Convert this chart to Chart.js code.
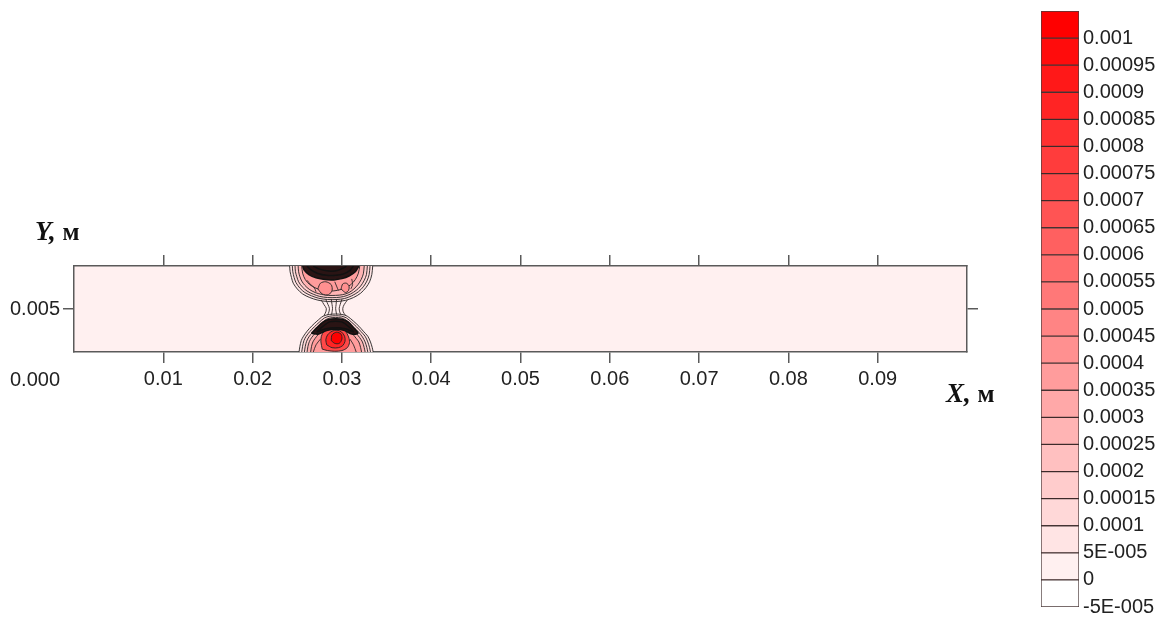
<!DOCTYPE html>
<html>
<head>
<meta charset="utf-8">
<script src="https://cdn.jsdelivr.net/npm/chart.js@4.4.1/dist/chart.umd.min.js"></script>
<style>
  html, body { margin: 0; padding: 0; background: #fff; }
  #wrap { position: relative; width: 1168px; height: 617px; }
  #field { position: absolute; left: 0; top: 0; }
  #legend { position: absolute; left: 1030px; top: 0; }
</style>
</head>
<body>
<div id="wrap">
  <canvas id="field" width="1168" height="617"></canvas>
  <canvas id="legend" width="138" height="617"></canvas>
</div>
<script>
// axis ticks
const xTicks = [0.01, 0.02, 0.03, 0.04, 0.05, 0.06, 0.07, 0.08, 0.09];
const yTicks = [0.005];
const yFootValue = 0; // "0.000" printed under the Y axis

// contour levels of the legend (bottom to top)
const levels = [-0.00005, 0, 0.00005, 0.0001, 0.00015, 0.0002, 0.00025, 0.0003, 0.00035,
  0.0004, 0.00045, 0.0005, 0.00055, 0.0006, 0.00065, 0.0007, 0.00075, 0.0008,
  0.00085, 0.0009, 0.00095, 0.001];
const levelLabels = ['-5E-005', '0', '5E-005', '0.0001', '0.00015', '0.0002', '0.00025', '0.0003',
  '0.00035', '0.0004', '0.00045', '0.0005', '0.00055', '0.0006', '0.00065', '0.0007',
  '0.00075', '0.0008', '0.00085', '0.0009', '0.00095', '0.001'];
const legendTop = 0.00105;

// contour lines [x, y] in metres, upper lobe (open to the top wall)
const upper1 = [[0.02415,0.0080],[0.0242,0.0076],[0.02435,0.0072],[0.02455,0.0068],[0.0250,0.0064],[0.0256,0.00605],[0.0264,0.0058],[0.0273,0.00562],[0.0284,0.00552],[0.0294,0.00552],[0.0304,0.0056],[0.0313,0.0058],[0.0321,0.0061],[0.0327,0.0065],[0.0331,0.0069],[0.03335,0.0074],[0.03345,0.0080]];
const upper2 = [[0.02445,0.0080],[0.0245,0.0076],[0.02465,0.0072],[0.02485,0.00685],[0.0253,0.00645],[0.02585,0.00615],[0.0266,0.00592],[0.0274,0.00575],[0.0284,0.00566],[0.0294,0.00566],[0.0303,0.00573],[0.0311,0.00592],[0.03185,0.0062],[0.0324,0.00655],[0.0328,0.00695],[0.03305,0.0074],[0.03315,0.0080]];
const upper3 = [[0.02475,0.0080],[0.0248,0.0076],[0.02495,0.00725],[0.02515,0.0069],[0.02555,0.00655],[0.0261,0.00625],[0.0268,0.00603],[0.0275,0.00588],[0.0284,0.0058],[0.0294,0.0058],[0.0302,0.00587],[0.03095,0.00604],[0.0316,0.0063],[0.0321,0.0066],[0.0325,0.0070],[0.03275,0.0074],[0.03285,0.0080]];
const upper4 = [[0.0251,0.0080],[0.02515,0.0076],[0.0253,0.00725],[0.0255,0.00695],[0.02585,0.00665],[0.02635,0.00637],[0.0270,0.00615],[0.0277,0.00602],[0.0285,0.00595],[0.0293,0.00595],[0.0301,0.0060],[0.0308,0.00615],[0.03135,0.0064],[0.0318,0.0067],[0.03215,0.00705],[0.0324,0.00745],[0.0325,0.0080]];
const upper5 = [[0.0255,0.0080],[0.0256,0.0075],[0.0259,0.00705],[0.0264,0.0067],[0.0271,0.00645],[0.0279,0.0063],[0.0287,0.00625],[0.0295,0.0063],[0.0303,0.00645],[0.0310,0.0067],[0.0315,0.00705],[0.03185,0.0075],[0.0320,0.0080]];
const upperDense1 = [[0.0256,0.0080],[0.0258,0.0077],[0.0263,0.0074],[0.0271,0.00718],[0.0281,0.00705],[0.0291,0.00703],[0.0300,0.00712],[0.0308,0.0073],[0.0315,0.0076],[0.0319,0.0080]];
const upperDense2 = [[0.0261,0.0080],[0.0265,0.00775],[0.0273,0.00748],[0.0283,0.00735],[0.0293,0.00735],[0.0302,0.00745],[0.0309,0.0077],[0.0313,0.0080]];
const upperDense3 = [[0.0268,0.0080],[0.0275,0.00778],[0.0285,0.00765],[0.0295,0.00768],[0.0303,0.0079],[0.0305,0.0080]];
const upperLoop1 = [[0.0273,0.0064],[0.0276,0.0068],[0.0282,0.0069],[0.0288,0.0067],[0.0289,0.0063],[0.0285,0.0060],[0.0278,0.00605],[0.0273,0.0064]];
const upperLoop2 = [[0.0299,0.0064],[0.0301,0.00675],[0.0305,0.0068],[0.0308,0.0066],[0.03075,0.0063],[0.0304,0.00615],[0.0299,0.0064]];

// open contour pieces: neck between the lobes and small scribbles
const neck1 = [[0.0277,0.00562],[0.0280,0.0053],[0.02825,0.00505],[0.0282,0.0048],[0.0280,0.00455]];
const neck2 = [[0.0282,0.00566],[0.02845,0.0053],[0.0286,0.00505],[0.02855,0.0048],[0.0284,0.00458]];
const neck3 = [[0.0288,0.0057],[0.0289,0.0053],[0.02895,0.00505],[0.0289,0.0048],[0.02885,0.0046]];
const neck4 = [[0.0294,0.0057],[0.02935,0.0053],[0.0293,0.00505],[0.02935,0.0048],[0.0294,0.00462]];
const neck5 = [[0.0300,0.00568],[0.0298,0.0053],[0.0297,0.00505],[0.02975,0.0048],[0.0299,0.0046]];
const neck6 = [[0.0306,0.00562],[0.03025,0.0053],[0.0301,0.00505],[0.03015,0.0048],[0.0304,0.00456]];
const scribble1 = [[0.0261,0.0070],[0.0265,0.0067],[0.0269,0.0065],[0.0271,0.0062]];
const scribble2 = [[0.0292,0.0069],[0.0294,0.0066],[0.0296,0.0063]];
const scribble3 = [[0.0311,0.0071],[0.0312,0.0067],[0.0310,0.0064]];
const hatch1 = [[0.0268,0.0020],[0.0271,0.0025],[0.0276,0.0029]];
const hatch2 = [[0.0316,0.0020],[0.0313,0.0025],[0.0309,0.0029]];

// lower lobe (open to the bottom wall)
const lower1 = [[0.0252,0.0020],[0.0253,0.0024],[0.02545,0.0028],[0.0257,0.0031],[0.0261,0.00345],[0.0266,0.0038],[0.0272,0.00415],[0.0279,0.0045],[0.0286,0.00462],[0.0293,0.00465],[0.0300,0.00462],[0.0306,0.0045],[0.0313,0.00415],[0.0319,0.0038],[0.0324,0.00345],[0.0329,0.0031],[0.0332,0.0027],[0.0334,0.0023],[0.0335,0.0020]];
const lower2 = [[0.0255,0.0020],[0.0256,0.0024],[0.02575,0.0028],[0.0260,0.0031],[0.0264,0.00342],[0.0269,0.00375],[0.02745,0.00407],[0.02805,0.00438],[0.02865,0.0045],[0.0293,0.00453],[0.02995,0.0045],[0.0305,0.00438],[0.0311,0.00407],[0.03165,0.00375],[0.03215,0.00342],[0.0326,0.0031],[0.0329,0.0027],[0.0331,0.0023],[0.0332,0.0020]];
const lower3 = [[0.0258,0.0020],[0.0259,0.0024],[0.02605,0.00275],[0.0263,0.00305],[0.0267,0.00337],[0.0272,0.00368],[0.0277,0.00398],[0.0282,0.00426],[0.0287,0.00438],[0.0293,0.00441],[0.0299,0.00438],[0.0304,0.00426],[0.0309,0.00398],[0.0314,0.00368],[0.0319,0.00337],[0.0323,0.00305],[0.0326,0.0027],[0.0328,0.0023],[0.0329,0.0020]];
const lower4 = [[0.0261,0.0020],[0.0262,0.0024],[0.02635,0.00272],[0.0266,0.0030],[0.0270,0.0033],[0.02745,0.0036],[0.0279,0.0039],[0.02835,0.00414],[0.0288,0.00426],[0.0293,0.00429],[0.0298,0.00426],[0.03025,0.00414],[0.0307,0.0039],[0.03115,0.0036],[0.0316,0.0033],[0.0320,0.0030],[0.0323,0.0027],[0.0325,0.0023],[0.0326,0.0020]];
const lower5 = [[0.0265,0.0020],[0.0266,0.0024],[0.02675,0.0027],[0.0270,0.00295],[0.02735,0.00322],[0.02775,0.0035],[0.02815,0.0038],[0.02855,0.00402],[0.0289,0.00412],[0.0293,0.00415],[0.0297,0.00412],[0.03005,0.00402],[0.03045,0.0038],[0.03085,0.0035],[0.03125,0.00322],[0.0316,0.00295],[0.0319,0.0027],[0.0321,0.0023],[0.0322,0.0020]];
const lowerRed1 = [[0.0278,0.0022],[0.02765,0.0027],[0.0277,0.0031],[0.0280,0.00345],[0.0285,0.0037],[0.0292,0.0038],[0.0299,0.00372],[0.0304,0.00345],[0.03075,0.00305],[0.03085,0.00265],[0.0306,0.0023],[0.0300,0.0021],[0.0292,0.00205],[0.0284,0.0021],[0.0278,0.0022]];
const lowerRed2 = [[0.0283,0.0025],[0.0282,0.00285],[0.0284,0.0032],[0.0289,0.00345],[0.02945,0.00352],[0.02995,0.0034],[0.0303,0.0031],[0.03035,0.00275],[0.0301,0.00245],[0.0296,0.0023],[0.0289,0.0023],[0.0283,0.0025]];
const lowerRed3 = [[0.0288,0.0028],[0.0289,0.0032],[0.0294,0.00338],[0.0299,0.00325],[0.0300,0.0029],[0.0297,0.0026],[0.0292,0.0026],[0.0288,0.0028]];
const lowerDense1 = [[0.0266,0.0033],[0.0272,0.0037],[0.0279,0.0041],[0.0286,0.00428],[0.0293,0.00432],[0.0300,0.00428],[0.0307,0.0041],[0.0313,0.0037],[0.0318,0.0033],[0.0311,0.00325],[0.0303,0.0035],[0.0293,0.00358],[0.0283,0.0035],[0.0274,0.00325],[0.0266,0.0033]];
const lowerDense2 = [[0.0272,0.0034],[0.0279,0.0038],[0.0286,0.0041],[0.0293,0.00415],[0.0300,0.0041],[0.0307,0.0038],[0.0313,0.0034],[0.0305,0.0036],[0.0293,0.0037],[0.0281,0.0036],[0.0272,0.0034]];

// closed contours, outermost first
const contours = [
  { pts: upper1, level: 0.00005 }, { pts: upper2, level: 0.0001 }, { pts: upper3, level: 0.00015 },
  { pts: upper4, level: 0.00025 }, { pts: upper5, level: 0.00035 },
  { pts: upperLoop1, level: 0.0004 }, { pts: upperLoop2, level: 0.0004 },
  { pts: upperDense1, level: 0.0004 }, { pts: upperDense2, level: 0.0005 }, { pts: upperDense3, level: 0.0006 },
  { pts: lower1, level: 0.00005 }, { pts: lower2, level: 0.0001 }, { pts: lower3, level: 0.00015 },
  { pts: lower4, level: 0.00025 }, { pts: lower5, level: 0.00035 },
  { pts: lowerRed1, level: 0.0007 }, { pts: lowerRed2, level: 0.00085 }, { pts: lowerRed3, level: 0.001 },
  { pts: lowerDense1, level: 0.0004 }, { pts: lowerDense2, level: 0.0005 }
];
const denseContours = [upperDense1, upperDense2, upperDense3, lowerDense1, lowerDense2];
const openLines = [neck1, neck2, neck3, neck4, neck5, neck6, scribble1, scribble2, scribble3, hatch1, hatch2];

const sans = "'Liberation Sans', Arial, sans-serif";
const serif = "'Liberation Serif', 'Times New Roman', serif";
const axisGray = '#5a5a5a';

function levelColor(v) {
  if (v < 0) return '#ffffff';
  const g = Math.round(240 * (1 - Math.min(v / 0.001, 1)));
  return 'rgb(255,' + g + ',' + g + ')';
}

const toXY = pts => pts.map(p => ({ x: p[0], y: p[1] }));

const datasets = contours.map(c => {
  const dense = denseContours.includes(c.pts);
  return {
    data: toXY(c.pts),
    fill: 'shape',
    backgroundColor: dense ? '#2a1414' : levelColor(c.level),
    borderColor: dense ? '#111' : 'rgba(35,35,35,0.9)',
    borderWidth: dense ? 1.5 : 1,
    tension: 0.3,
    pointRadius: 0
  };
});
openLines.forEach(n => {
  datasets.push({
    data: toXY(n), fill: false, borderColor: 'rgba(50,40,40,0.9)',
    borderWidth: 1, tension: 0.3, pointRadius: 0
  });
});
// first dataset is drawn on top, so put the outer contours last
datasets.reverse();

const fieldBg = {
  id: 'fieldBg',
  beforeDraw(chart) {
    const { ctx, chartArea: a } = chart;
    ctx.save();
    ctx.fillStyle = levelColor(0);
    ctx.fillRect(a.left, a.top, a.right - a.left, a.bottom - a.top);
    ctx.restore();
  }
};

const axisText = {
  id: 'axisText',
  afterDraw(chart) {
    const { ctx, chartArea: a } = chart;
    const ys = chart.scales.y;
    ctx.save();
    ctx.fillStyle = '#222';
    ctx.font = '20px ' + sans;
    ctx.textAlign = 'right';
    ctx.textBaseline = 'middle';
    ctx.fillText(yFootValue.toFixed(3), a.left - 14, ys.getPixelForValue(yFootValue));

    ctx.fillStyle = '#111';
    ctx.textAlign = 'left';
    ctx.textBaseline = 'alphabetic';
    const title = (x, y, letter) => {
      ctx.font = 'italic bold 27px ' + serif;
      ctx.fillText(letter + ',', x, y);
      const w = ctx.measureText(letter + ', ').width;
      ctx.font = 'bold 25px ' + serif;
      ctx.fillText('м', x + w, y);
    };
    title(a.left - 39, a.top - 26, 'Y');
    title(a.right - 21, a.bottom + 50, 'X');
    ctx.restore();
  }
};

const tickGrid = { drawOnChartArea: false, drawTicks: true, tickLength: 11, color: axisGray, lineWidth: 1.5 };
const frame = { display: true, color: axisGray, width: 1.5 };

new Chart(document.getElementById('field'), {
  type: 'line',
  data: { datasets },
  options: {
    responsive: false,
    animation: false,
    events: [],
    layout: { padding: 0 },
    plugins: { legend: { display: false }, tooltip: { enabled: false } },
    scales: {
      x: {
        type: 'linear', position: 'bottom', min: 0, max: 0.1,
        afterBuildTicks: s => { s.ticks = xTicks.map(v => ({ value: v })); },
        afterFit: s => { s.height = 265; },
        ticks: { callback: v => v.toFixed(2), font: { family: sans, size: 20 }, color: '#222', padding: 4, autoSkip: false, maxRotation: 0 },
        grid: tickGrid, border: frame
      },
      xTop: {
        type: 'linear', position: 'top', min: 0, max: 0.1,
        afterBuildTicks: s => { s.ticks = xTicks.map(v => ({ value: v })); },
        afterFit: s => { s.height = 266; },
        ticks: { display: false },
        grid: tickGrid, border: frame
      },
      y: {
        type: 'linear', position: 'left', min: 0.002, max: 0.008,
        afterBuildTicks: s => { s.ticks = yTicks.map(v => ({ value: v })); },
        afterFit: s => { s.width = 74; },
        ticks: { callback: v => v.toFixed(3), font: { family: sans, size: 20 }, color: '#222', padding: 3 },
        grid: tickGrid, border: frame
      },
      yRight: {
        type: 'linear', position: 'right', min: 0.002, max: 0.008,
        afterBuildTicks: s => { s.ticks = yTicks.map(v => ({ value: v })); },
        afterFit: s => { s.width = 201; },
        ticks: { display: false },
        grid: tickGrid, border: frame
      }
    }
  },
  plugins: [fieldBg, axisText]
});

// colour legend
const bands = levels.map((lo, i) => ({
  data: [[lo, i + 1 < levels.length ? levels[i + 1] : legendTop]],
  backgroundColor: levelColor(lo),
  borderColor: 'rgba(45,25,25,0.85)',
  borderWidth: 1,
  borderSkipped: false,
  grouped: false,
  barPercentage: 1,
  categoryPercentage: 1
}));

new Chart(document.getElementById('legend'), {
  type: 'bar',
  data: { labels: ['level'], datasets: bands },
  options: {
    responsive: false,
    animation: false,
    events: [],
    layout: { padding: { left: 11, top: 11, bottom: 10, right: 0 } },
    plugins: { legend: { display: false }, tooltip: { enabled: false } },
    scales: {
      x: { display: false },
      y: {
        type: 'linear', position: 'right', min: levels[0], max: legendTop,
        afterBuildTicks: s => { s.ticks = levels.map(v => ({ value: v })); },
        afterFit: s => { s.width = 89; s.paddingTop = 0; s.paddingBottom = 0; },
        ticks: {
          callback: (v, i) => levelLabels[i],
          font: { family: sans, size: 20, lineHeight: 1 }, color: '#222', padding: 4, autoSkip: false
        },
        grid: { display: false, drawTicks: false },
        border: { display: false }
      }
    }
  }
});
</script>
</body>
</html>
